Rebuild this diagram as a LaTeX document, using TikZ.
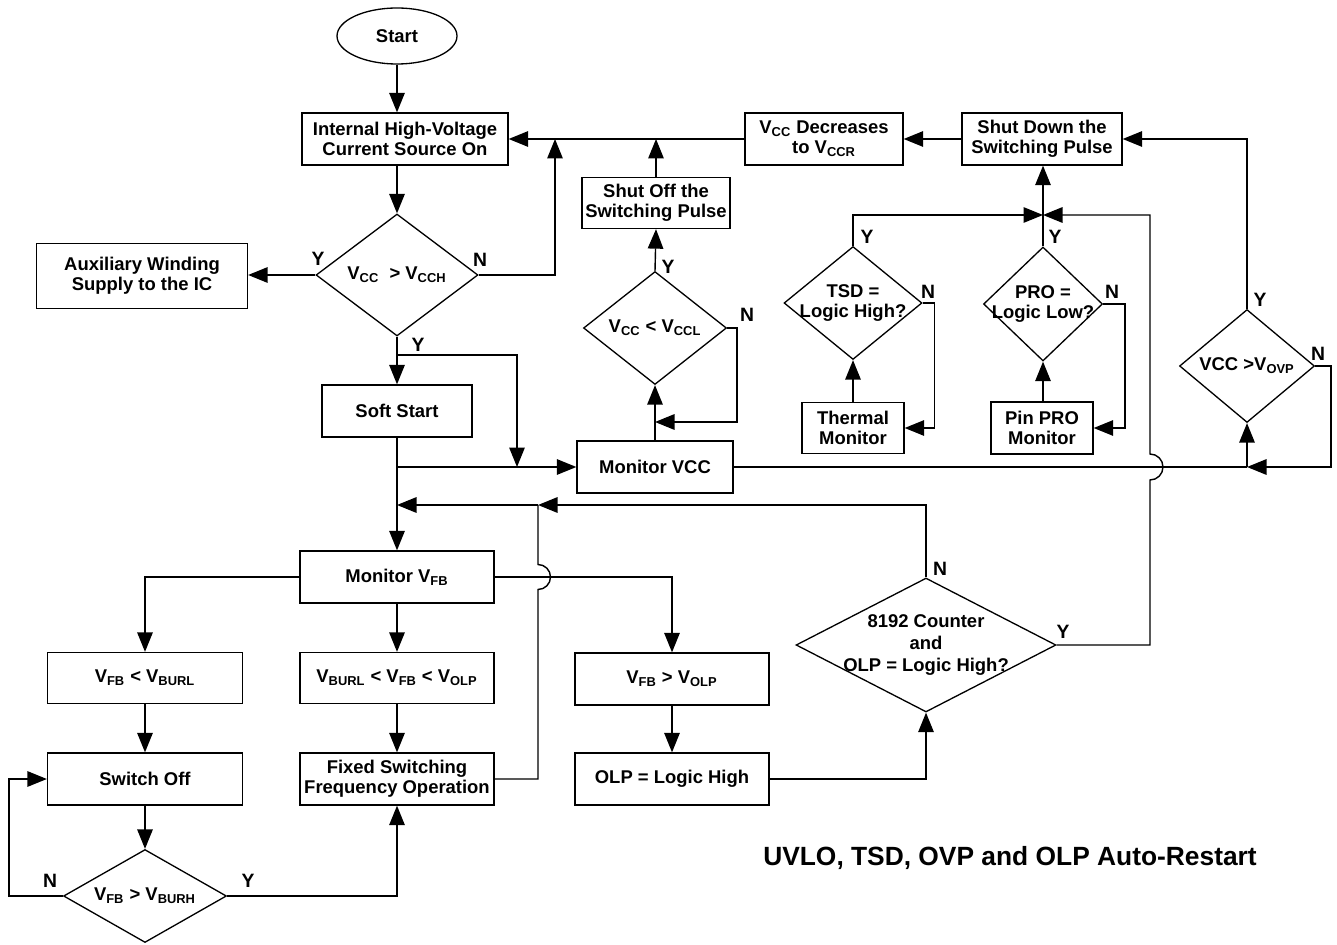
\documentclass[tikz,border=0pt]{standalone}
\usepackage{fontspec}
\setmainfont{Liberation Sans}
\usetikzlibrary{shapes.geometric, arrows.meta, positioning, calc}
\newcommand{\vsub}[1]{\textsubscript{#1}}
\newcommand{\fnt}{\fontsize{10.5}{11.5}\selectfont\bfseries}
\tikzset{
  blk/.style={
    rectangle, draw, line width=0.75pt, minimum width=3.88cm,
    minimum height=1.04cm, inner sep=0pt, align=center, font=\fnt},
  startnode/.style={
    ellipse, draw, line width=0.75pt, minimum width=2.4cm,
    minimum height=1.12cm, inner sep=0pt, font=\fnt},
  decide/.style={
    diamond, draw, line width=0.75pt, inner sep=0pt},
  dlbl/.style={align=center, inner sep=0pt, font=\fnt},
  yn/.style={inner sep=0pt, font=\fontsize{11}{12}\selectfont\bfseries},
  arr/.style={-{Triangle[length=3.9mm, width=3.1mm]}, line width=0.8pt},
  ln/.style={line width=0.8pt},
}
\begin{document}
\begin{tikzpicture}[x=0.02cm, y=-0.02cm]
  \useasboundingbox (0,0) rectangle (1337,945);
  \node[startnode] (start) at (397,36) {Start};
  \node[blk, minimum width=4.12cm] (hvsrc) at (405,139)
    {Internal High-Voltage\\Current Source On};
  \node[blk, minimum width=3.16cm] (vccdec) at (824,139)
    {V\vsub{CC} Decreases\\to V\vsub{CCR}};
  \node[blk, minimum width=3.2cm] (shutdn) at (1042,139)
    {Shut Down the\\Switching Pulse};
  \node[blk, minimum width=2.96cm, minimum height=1.02cm] (shutoff) at (656,203)
    {Shut Off the\\Switching Pulse};
  \node[decide, minimum width=3.24cm, minimum height=2.44cm,
        label={[dlbl]center:V\vsub{CC}\ \ > V\vsub{CCH}}] (vcch) at (397,275) {};
  \node[blk, minimum width=4.22cm, minimum height=1.3cm] (aux) at (142,276)
    {Auxiliary Winding\\Supply to the IC};
  \node[blk, minimum width=3cm] (soft) at (397,411) {Soft Start};
  \node[blk, minimum width=3.12cm] (monvcc) at (655,467) {Monitor VCC};
  \node[decide, minimum width=2.86cm, minimum height=2.26cm,
        label={[dlbl]center:V\vsub{CC} < V\vsub{CCL}}] (vccl) at (655,328) {};
  \node[decide, minimum width=2.76cm, minimum height=2.26cm,
        label={[dlbl]center:TSD =\\Logic High?}] (tsd) at (853,303) {};
  \node[blk, minimum width=2.04cm, minimum height=1.02cm] (thermal) at (853,428)
    {Thermal\\Monitor};
  \node[decide, minimum width=2.38cm, minimum height=2.28cm,
        label={[dlbl]center:PRO =\\Logic Low?}] (pro) at (1043,304) {};
  \node[blk, minimum width=2.04cm] (pinpro) at (1042,428) {Pin PRO\\Monitor};
  \node[decide, minimum width=2.7cm, minimum height=2.26cm,
        label={[dlbl]center:VCC >V\vsub{OVP}}] (ovp) at (1247,366) {};
  \node[blk] (monvfb) at (397,577) {Monitor V\vsub{FB}};
  \node[blk, minimum width=3.9cm, minimum height=1.02cm] (burl) at (145,678)
    {V\vsub{FB} < V\vsub{BURL}};
  \node[blk, minimum height=1.02cm] (norm) at (397,678)
    {V\vsub{BURL} < V\vsub{FB} < V\vsub{OLP}};
  \node[blk] (vfbolp) at (672,679) {V\vsub{FB} > V\vsub{OLP}};
  \node[blk, minimum width=3.9cm] (swoff) at (145,779) {Switch Off};
  \node[blk] (fixed) at (397,779) {Fixed Switching\\Frequency Operation};
  \node[blk] (olp) at (672,779) {OLP = Logic High};
  \node[decide, minimum width=3.26cm, minimum height=1.86cm,
        label={[dlbl]center:V\vsub{FB} > V\vsub{BURH}}] (burh) at (145,896) {};
  \node[decide, minimum width=5.2cm, minimum height=2.68cm,
        label={[dlbl, font=\fontsize{10.5}{12.5}\selectfont\bfseries]center:8192 Counter\\and\\OLP = Logic High?}]
    (cnt) at (926,645) {};
  \node[font=\fontsize{15}{17}\selectfont\bfseries] (title) at (1010,858)
    {UVLO, TSD, OVP and OLP Auto-Restart};
  \coordinate (jhv) at (555,139);
  \coordinate (ybr) at (397,355);
  \coordinate (jvcc) at (517,467);
  \coordinate (jvccl) at (655,422);
  \coordinate (jsd) at (1043,215);
  \coordinate (jovp) at (1247,467);
  \coordinate (jfb) at (538,505);
  \coordinate (jmain) at (397,505);
  \coordinate (hopa) at (538,577);
  \coordinate (hopb) at (1150,467);
  \draw[arr] (start.south) -- (start.south |- hvsrc.north);
  \draw[arr] (vcch.north |- hvsrc.south) -- (vcch.north);
  \draw[arr] (vcch.west) -- (vcch.west -| aux.east);
  \draw[arr] (vcch.east) -| (jhv);
  \draw[arr] (vccdec.west) -- (hvsrc.east);
  \draw[arr] (shutdn.west) -- (vccdec.east);
  \draw[arr] (shutoff.north) -- (shutoff.north |- vccdec.west);
  \draw[arr] (ovp.north) |- (shutdn.east);
  \draw[arr] (vcch.south) -- (soft.north);
  \draw[arr] (ybr) -| (jvcc);
  \draw[arr] (soft.south) -- (monvfb.north);
  \draw[arr] (soft.south |- monvcc.west) -- (monvcc.west);
  \draw[arr] (monvcc.north) -- (vccl.south);
  \draw[arr] (vccl.north) -- (shutoff.south);
  \draw[arr] (vccl.east) -- ++(10,0) |- (jvccl);
  \draw[ln] (monvcc.east) -- (jovp);
  \draw[arr] (jovp) -- (ovp.south);
  \draw[arr] (ovp.east) -- ++(16,0) |- (jovp);
  \draw[arr] (pro.north) -- (pro.north |- shutdn.south);
  \draw[arr] (tsd.north) |- (jsd);
  \draw[arr] (thermal.north) -- (tsd.south);
  \draw[arr] (tsd.east) -- ++(12,0) |- (thermal.east);
  \draw[arr] (pro.south |- pinpro.north) -- (pro.south);
  \draw[arr] (pro.east) -- ++(22,0) |- (pinpro.east);
  \draw[arr] (cnt.east) -| ([yshift=-0.26cm]hopb)
    arc[start angle=-90, end angle=90, radius=0.26cm] |- (jsd);
  \draw[arr] (monvfb.west) -| (burl.north);
  \draw[arr] (monvfb.south) -- (norm.north);
  \draw[arr] (monvfb.east) -| (vfbolp.north);
  \draw[arr] (burl.south) -- (swoff.north);
  \draw[arr] (norm.south) -- (fixed.north);
  \draw[arr] (vfbolp.south) -- (olp.north);
  \draw[arr] (swoff.south) -- (burh.north);
  \draw[arr] (burh.west) -- ++(-54,0) |- (swoff.west);
  \draw[arr] (burh.east) -| (fixed.south);
  \draw[arr] (olp.east) -| (cnt.south);
  \draw[arr] (cnt.north) |- (jfb);
  \draw[arr] (jfb) -- (jmain);
  \draw[ln] (fixed.east) -| ([yshift=-0.25cm]hopa)
    arc[start angle=-90, end angle=90, radius=0.25cm] -- (jfb);
  \node[yn] (y1) at (318,259) {Y};
  \node[yn] (n1) at (480,260) {N};
  \node[yn] (y2) at (418,345) {Y};
  \node[yn] (y3) at (668,267) {Y};
  \node[yn] (n3) at (747,315) {N};
  \node[yn] (y4) at (867,237) {Y};
  \node[yn] (n4) at (928,292) {N};
  \node[yn] (y5) at (1055,237) {Y};
  \node[yn] (n5) at (1112,292) {N};
  \node[yn] (y6) at (1260,300) {Y};
  \node[yn] (n6) at (1318,354) {N};
  \node[yn] (n7) at (940,569) {N};
  \node[yn] (y7) at (1063,632) {Y};
  \node[yn] (n8) at (50,881) {N};
  \node[yn] (y8) at (248,881) {Y};
\end{tikzpicture}
\end{document}
